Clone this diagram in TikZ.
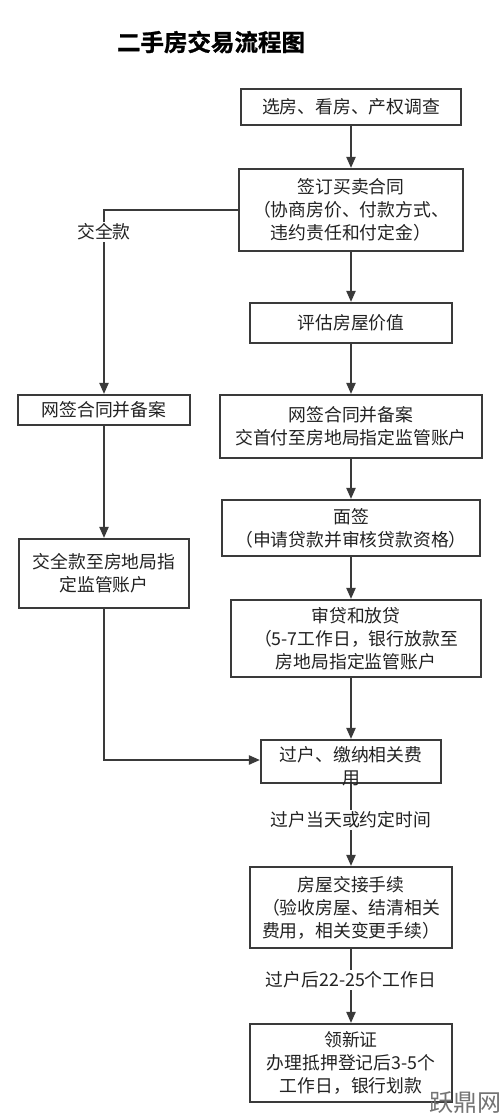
\documentclass[tikz,border=0pt]{standalone}
\usepackage{fontspec}
\setmainfont{Noto Sans CJK SC}
\newfontfamily\cjk{Noto Sans CJK SC}
\newfontfamily\cjkb[FakeBold=1.2]{Noto Sans CJK SC Bold}
\usetikzlibrary{arrows.meta}
\definecolor{ln}{HTML}{3A3A3A}
\definecolor{tx}{HTML}{222222}
\tikzset{
  flow/.style={draw=ln, line width=2.1pt, fill=white, text=tx, align=center, inner sep=0pt,
    font=\cjk\fontsize{17.8}{23}\selectfont},
  conn/.style={draw=ln, line width=2.1pt, -{Triangle[length=11pt,width=9pt]}},
  lab/.style={fill=white, text=tx, inner sep=2pt, font=\cjk\fontsize{17.8}{23}\selectfont},
  txt/.style={text=tx, align=center, inner sep=0pt, font=\cjk\fontsize{17.8}{23}\selectfont}
}
\begin{document}
\begin{tikzpicture}[x=1pt,y=-1pt]
\useasboundingbox[fill=white] (0,0) rectangle (500,1119);
\node[text=black, font=\cjkb\fontsize{23.5}{28}\selectfont] (title) at (211,42) {二手房交易流程图};

\node[flow, minimum width=220pt, minimum height=36pt] (b1) at (351,107) {选房、看房、产权调查};
\node[flow, minimum width=224pt, minimum height=82pt] (b2) at (351,210) {签订买卖合同\\（协商房价、付款方式、\\违约责任和付定金）};
\node[flow, minimum width=202pt, minimum height=40pt] (b3) at (351,323) {评估房屋价值};
\node[flow, minimum width=262pt, minimum height=63pt] (b4) at (351,426.5) {网签合同并备案\\交首付至房地局指定监管账户};
\node[flow, minimum width=258pt, minimum height=56pt] (b5) at (351,528) {面签\\（申请贷款并审核贷款资格）};
\node[flow, minimum width=250pt, minimum height=77pt] (b6) at (356,638.5) {审贷和放贷\\（5-7工作日，银行放款至\\房地局指定监管账户};
\node[flow, minimum width=180pt, minimum height=43pt] (b7) at (351,761.5) {};
\node[txt] (b7t) at (351,766) {过户、缴纳相关费\\用};
\node[flow, minimum width=202pt, minimum height=81pt] (b8) at (351,907.5) {房屋交接手续\\（验收房屋、结清相关\\费用，相关变更手续）};
\node[flow, minimum width=202pt, minimum height=78pt] (b9) at (351,1063) {领新证\\办理抵押登记后3-5个\\工作日，银行划款};

\node[flow, minimum width=172pt, minimum height=30pt] (la) at (104,410) {网签合同并备案};
\node[flow, minimum width=170pt, minimum height=69pt] (lb) at (104,573.5) {交全款至房地局指\\定监管账户};

\coordinate (c1) at (104,210);
\coordinate (c2) at (104,760);

\draw[conn] (b1.south) -- (b2.north);
\draw[conn] (b2.south) -- (b3.north);
\draw[conn] (b3.south) -- (b4.north);
\draw[conn] (b4.south) -- (b5.north);
\draw[conn] (b5.south) -- (b5.south |- b6.north);
\draw[conn] (b6.south -| b7.north) -- (b7.north);
\draw[conn] (b7.south) -- (b8.north);
\draw[conn] (b8.south) -- (b9.north);

\draw[conn] (b2.west |- c1) -- (c1) -- (la.north);
\draw[conn] (la.south) -- (lb.north);
\draw[conn] (lb.south) -- (c2) -- (c2 -| b7.west);

\node[lab] (l1) at (104,232) {交全款};
\node[lab] (l2) at (351,820) {过户当天或约定时间};
\node[lab] (l3) at (351,980) {过户后22-25个工作日};

\node[text=black!55, font=\cjk\fontsize{24}{28}\selectfont, inner sep=0pt] (wm) at (465,1103) {跃鼎网};
\end{tikzpicture}
\end{document}
